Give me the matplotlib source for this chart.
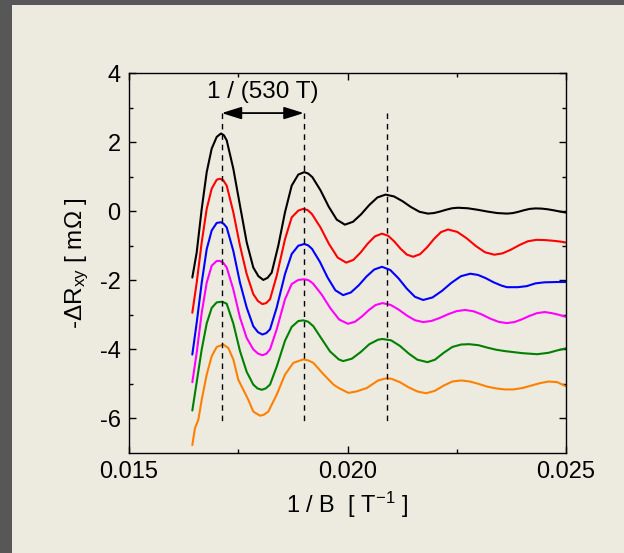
import matplotlib
matplotlib.use("Agg")
import matplotlib.pyplot as plt
from matplotlib.patches import Rectangle

plt.rcParams['font.family'] = ['Liberation Sans', 'DejaVu Sans']
plt.rcParams['mathtext.fontset'] = 'custom'
plt.rcParams['mathtext.rm'] = 'Liberation Sans'
plt.rcParams['mathtext.it'] = 'Liberation Sans'
plt.rcParams['axes.unicode_minus'] = False

# ---- data ----
x_black = [0.016449, 0.016549, 0.016664, 0.016778, 0.016892, 0.017007, 0.017105, 0.01717,
           0.017236, 0.017387, 0.01754, 0.017693, 0.017844, 0.01796, 0.018073, 0.01817,
           0.018265, 0.018416, 0.01857, 0.018723, 0.018874, 0.019011, 0.0191, 0.019196,
           0.019382, 0.019568, 0.019754, 0.01994, 0.020126, 0.020312, 0.020498, 0.020684,
           0.02087, 0.021064, 0.021258, 0.021452, 0.021646, 0.02184, 0.021978, 0.022116,
           0.022254, 0.022392, 0.02253, 0.022754, 0.022978, 0.023202, 0.023426, 0.02365,
           0.02378, 0.02391, 0.02404, 0.02417, 0.0243, 0.02444, 0.02458, 0.02472,
           0.02486, 0.0250]
y_black = [-1.92, -1.195, 0.067, 1.13, 1.81, 2.15, 2.25, 2.2,
           2.05, 1.23, 0.16, -0.90, -1.63, -1.88, -1.99, -1.93,
           -1.78, -1.0, -0.03, 0.74, 1.06, 1.13, 1.09, 0.985,
           0.605, 0.135, -0.245, -0.39, -0.307, -0.089, 0.179, 0.397,
           0.48, 0.427, 0.29, 0.12, -0.017, -0.07, -0.054, -0.011,
           0.041, 0.084, 0.10, 0.084, 0.041, -0.011, -0.054, -0.07,
           -0.056, -0.018, 0.028, 0.066, 0.08, 0.075, 0.055, 0.025,
           -0.01, -0.04]

x_red = [0.016449, 0.016549, 0.016664, 0.016778, 0.016892, 0.017007, 0.017082, 0.01716,
         0.017236, 0.017387, 0.01754, 0.017693, 0.017844, 0.01795, 0.018051, 0.01814,
         0.018227, 0.01838, 0.01857, 0.018723, 0.018874, 0.018989, 0.01909, 0.019186,
         0.019382, 0.019578, 0.019774, 0.01997, 0.020134, 0.020298, 0.020462, 0.020626,
         0.02079, 0.020932, 0.021074, 0.021216, 0.021358, 0.0215, 0.02166, 0.02182,
         0.02198, 0.02214, 0.0223, 0.022512, 0.022724, 0.022936, 0.023148, 0.02336,
         0.023552, 0.023744, 0.023936, 0.024128, 0.02432, 0.0245, 0.0247, 0.0249,
         0.0250]
y_red = [-2.94, -2.07, -0.90, 0.067, 0.65, 0.91, 0.94, 0.89,
         0.74, -0.03, -1.0, -1.82, -2.40, -2.6, -2.69, -2.66,
         -2.55, -1.87, -0.81, -0.18, 0.017, 0.067, 0.03, -0.082,
         -0.471, -0.952, -1.341, -1.49, -1.41, -1.2, -0.94, -0.73,
         -0.65, -0.714, -0.881, -1.089, -1.256, -1.32, -1.245, -1.047,
         -0.803, -0.605, -0.53, -0.6, -0.782, -1.008, -1.19, -1.26,
         -1.219, -1.111, -0.979, -0.871, -0.83, -0.835, -0.855, -0.885,
         -0.91]

x_blue = [0.016449, 0.016549, 0.016664, 0.016778, 0.016892, 0.017007, 0.017105, 0.01717,
          0.017236, 0.017387, 0.01754, 0.017693, 0.017844, 0.01795, 0.018051, 0.01814,
          0.018227, 0.01838, 0.01857, 0.018723, 0.018874, 0.019011, 0.0191, 0.019188,
          0.019366, 0.019544, 0.019722, 0.0199, 0.020078, 0.020256, 0.020434, 0.020612,
          0.02079, 0.020978, 0.021166, 0.021354, 0.021542, 0.02173, 0.021946, 0.022162,
          0.022378, 0.022594, 0.02281, 0.022988, 0.023166, 0.023344, 0.023522, 0.02365,
          0.0239, 0.0241, 0.0243, 0.0245, 0.0248, 0.0250]
y_blue = [-4.15, -3.23, -2.07, -1.10, -0.56, -0.34, -0.32, -0.37,
          -0.47, -1.15, -2.07, -2.79, -3.33, -3.50, -3.57, -3.53,
          -3.42, -2.79, -1.82, -1.24, -1.0, -0.95, -0.99, -1.091,
          -1.461, -1.919, -2.289, -2.43, -2.352, -2.147, -1.893, -1.688,
          -1.61, -1.702, -1.942, -2.238, -2.478, -2.57, -2.497, -2.307,
          -2.073, -1.883, -1.81, -1.846, -1.941, -2.059, -2.154, -2.2,
          -2.2, -2.17, -2.09, -2.06, -2.05, -2.05]

x_magenta = [0.016449, 0.016549, 0.016664, 0.016778, 0.016892, 0.017007, 0.017082, 0.01716,
             0.017236, 0.017387, 0.01754, 0.017693, 0.017844, 0.01795, 0.018051, 0.01814,
             0.018227, 0.01838, 0.01857, 0.018723, 0.018874, 0.019011, 0.01911, 0.01921,
             0.01941, 0.01961, 0.01981, 0.02001, 0.020168, 0.020326, 0.020484, 0.020642,
             0.0208, 0.020986, 0.021172, 0.021358, 0.021544, 0.02173, 0.021922, 0.022114,
             0.022306, 0.022498, 0.02269, 0.022882, 0.023074, 0.023266, 0.023458, 0.02365,
             0.023822, 0.023994, 0.024166, 0.024338, 0.02451, 0.02467, 0.02484, 0.0250]
y_magenta = [-4.95, -4.10, -2.94, -2.07, -1.58, -1.44, -1.44, -1.50,
             -1.63, -2.26, -3.08, -3.67, -4.0, -4.12, -4.17, -4.13,
             -4.0, -3.42, -2.55, -2.11, -1.99, -1.97, -2.0, -2.093,
             -2.416, -2.814, -3.137, -3.26, -3.203, -3.053, -2.867, -2.717,
             -2.66, -2.713, -2.85, -3.02, -3.157, -3.21, -3.177, -3.089,
             -2.981, -2.893, -2.86, -2.896, -2.991, -3.109, -3.204, -3.24,
             -3.209, -3.129, -3.031, -2.951, -2.92, -2.95, -3.0, -3.06]

x_green = [0.016449, 0.016549, 0.016664, 0.016778, 0.016892, 0.017007, 0.017135, 0.017236,
           0.017387, 0.01754, 0.017693, 0.017844, 0.01794, 0.018037, 0.01813, 0.018227,
           0.01838, 0.01857, 0.018723, 0.018874, 0.018989, 0.0191, 0.019218, 0.0194,
           0.0196, 0.0198, 0.0199, 0.0201, 0.0203, 0.0205, 0.0207, 0.0208,
           0.0210, 0.0212, 0.0214, 0.0216, 0.02183, 0.0220, 0.0222, 0.0224,
           0.0226, 0.02278, 0.0230, 0.0232, 0.0234, 0.0236, 0.0238, 0.0240,
           0.02434, 0.0246, 0.0248, 0.0250]
y_green = [-5.77, -4.95, -4.0, -3.25, -2.8, -2.64, -2.62, -2.68,
           -3.25, -4.05, -4.65, -5.02, -5.13, -5.17, -5.13, -5.02,
           -4.5, -3.75, -3.35, -3.18, -3.16, -3.2, -3.33, -3.68,
           -4.06, -4.29, -4.34, -4.27, -4.08, -3.85, -3.72, -3.70,
           -3.74, -3.9, -4.12, -4.3, -4.37, -4.3, -4.1, -3.93,
           -3.86, -3.85, -3.88, -3.95, -4.01, -4.05, -4.08, -4.11,
           -4.14, -4.1, -4.03, -3.97]

x_orange = [0.016449, 0.01651, 0.016586, 0.016664, 0.016778, 0.016892, 0.017007, 0.017158,
            0.017272, 0.017387, 0.017501, 0.017616, 0.01773, 0.017844, 0.017998, 0.01809,
            0.018188, 0.01838, 0.01857, 0.01876, 0.018989, 0.0191, 0.019218, 0.01945,
            0.01968, 0.0198, 0.02002, 0.0202, 0.02044, 0.0207, 0.02088, 0.0210,
            0.0212, 0.0214, 0.0216, 0.0218, 0.0220, 0.0222, 0.0224, 0.0226,
            0.0228, 0.0230, 0.0232, 0.0234, 0.0236, 0.0238, 0.0240, 0.0242,
            0.0244, 0.0246, 0.0248, 0.0250]
y_orange = [-6.77, -6.28, -6.04, -5.46, -4.73, -4.2, -3.93, -3.86,
            -3.96, -4.29, -4.88, -5.17, -5.46, -5.80, -5.92, -5.89,
            -5.80, -5.31, -4.73, -4.39, -4.29, -4.32, -4.39, -4.72,
            -5.02, -5.12, -5.26, -5.22, -5.12, -4.9, -4.84, -4.85,
            -4.95, -5.1, -5.22, -5.27, -5.2, -5.05, -4.93, -4.90,
            -4.93, -5.0, -5.08, -5.13, -5.16, -5.16, -5.12, -5.05,
            -4.98, -4.93, -4.95, -5.07]

peak_positions = [0.01712, 0.01900, 0.02090]
period_label = "1 / (530 T)"
x_ticks = [0.015, 0.020, 0.025]
x_ticklabels = ["0.015", "0.020", "0.025"]
y_ticks = [-6, -4, -2, 0, 2, 4]

# ---- figure ----
bg = '#EDEBE0'
fig = plt.figure(figsize=(6.24, 5.53), dpi=100, facecolor=bg)
fig.patches.append(Rectangle((0, 0), 12 / 624, 1, transform=fig.transFigure,
                             facecolor='#575757', edgecolor='none', zorder=0))
fig.patches.append(Rectangle((0, 1 - 5 / 553), 1, 5 / 553, transform=fig.transFigure,
                             facecolor='#575757', edgecolor='none', zorder=0))

ax = fig.add_axes([129 / 624, 1 - 453 / 553, 437 / 624, 380 / 553])
ax.set_facecolor(bg)

lw = 1.5
for xs, ys, c in [(x_black, y_black, 'black'), (x_red, y_red, '#ff0000'),
                  (x_blue, y_blue, '#0000ff'), (x_magenta, y_magenta, '#ff00ff'),
                  (x_green, y_green, '#008000'), (x_orange, y_orange, '#ff8000')]:
    ax.plot(xs, ys, color=c, lw=lw, solid_joinstyle='round', solid_capstyle='round')

for xp in peak_positions:
    ax.plot([xp, xp], [2.84, -6.06], color='black', lw=1.0, ls=(0, (4, 3.5)))

ax.annotate('', xy=(peak_positions[1], 2.84), xytext=(peak_positions[0], 2.84),
            arrowprops=dict(arrowstyle='<|-|>,head_length=0.8,head_width=0.25',
                            color='black', lw=1.3, mutation_scale=15,
                            shrinkA=0, shrinkB=0))
ax.text(0.01806, 3.45, period_label, ha='center', va='center', fontsize=17.5)

ax.set_xlim(0.015, 0.025)
ax.set_ylim(-7, 4)
ax.set_xticks(x_ticks)
ax.set_xticklabels(x_ticklabels)
ax.set_xticks([0.0175, 0.0225], minor=True)
ax.set_yticks(y_ticks)
ax.set_yticks([-5, -3, -1, 1, 3], minor=True)
ax.tick_params(which='both', direction='in', top=True, right=True, labelsize=17,
               width=1.0, color='black')
ax.tick_params(which='major', length=5, pad=6)
ax.tick_params(which='minor', length=3)
for s in ax.spines.values():
    s.set_linewidth(1.0)
    s.set_color('black')

ax.set_xlabel('1 / B  [ T$^{-1}$ ]', fontsize=17, labelpad=5)
ax.set_ylabel(r'-$\Delta$R$_{xy}$ [ m$\Omega$ ]', fontsize=17.5, labelpad=6)

fig.savefig('out.png', dpi=100, facecolor=bg)
